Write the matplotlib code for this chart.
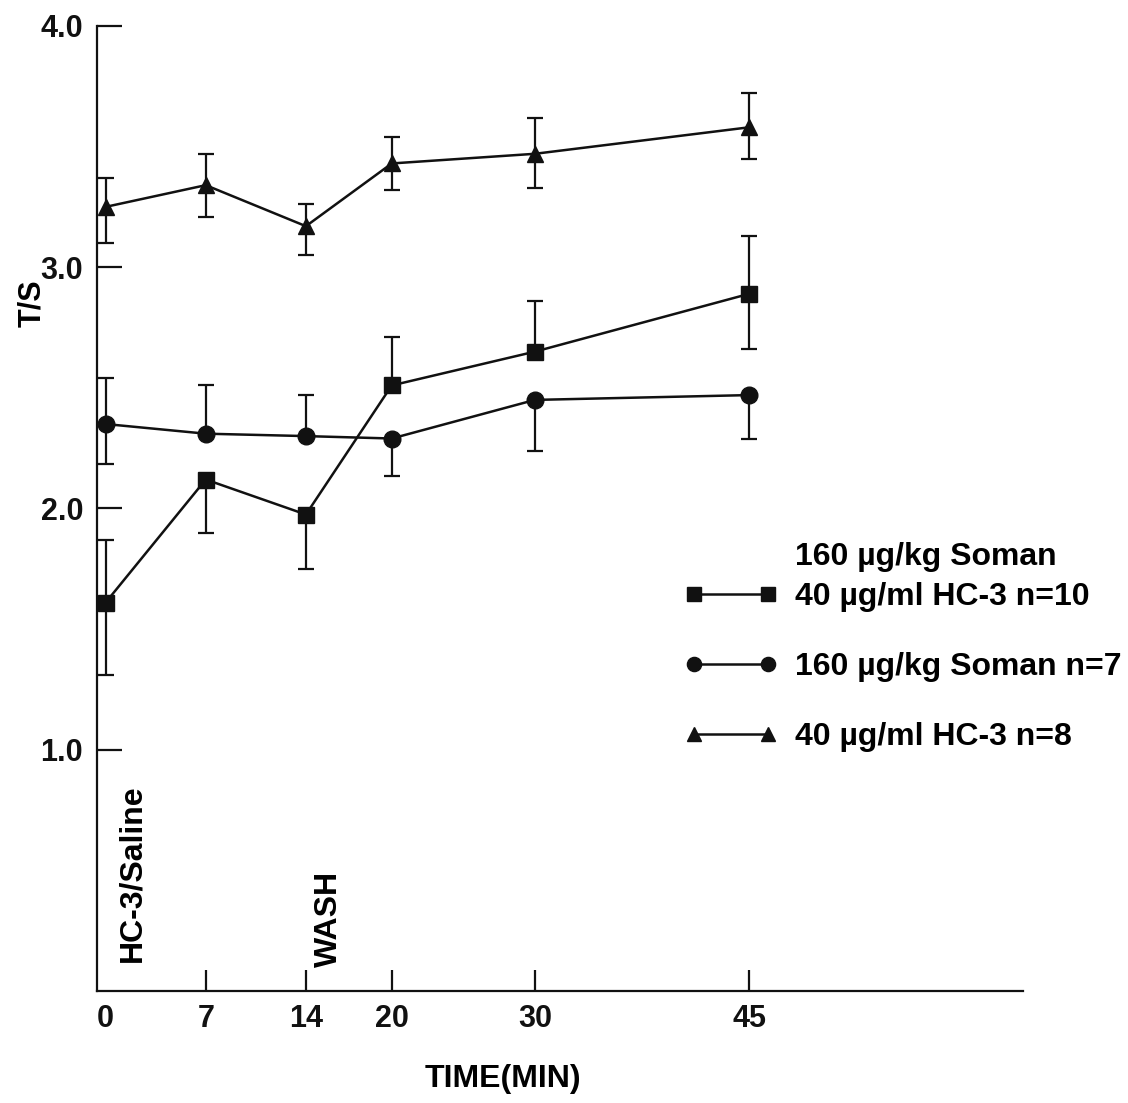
import numpy as np
import matplotlib
matplotlib.use("Agg")
import matplotlib.pyplot as plt

plt.rcParams["font.family"] = ["Liberation Sans", "DejaVu Sans"]
plt.rcParams["font.weight"] = "bold"

# 시간 (min)
TIMES = [0, 7, 14, 20, 30, 45]
X_TICKS = [0, 7, 14, 20, 30, 45]
Y_TICKS = [1.0, 2.0, 3.0, 4.0]
Y_TICK_LABELS = ["1.0", "2.0", "3.0", "4.0"]

# Soman + HC-3 (square)
SQ_MEAN = [1.61, 2.12, 1.975, 2.51, 2.65, 2.89]
SQ_UPPER = [1.87, None, None, 2.71, 2.86, 3.13]
SQ_LOWER = [1.31, 1.90, 1.75, None, None, 2.66]

# Soman only (circle)
CI_MEAN = [2.35, 2.31, 2.30, 2.29, 2.45, 2.47]
CI_UPPER = [2.54, 2.51, 2.47, None, None, None]
CI_LOWER = [2.185, None, None, 2.135, 2.24, 2.29]

# HC-3 only (triangle)
TR_MEAN = [3.25, 3.34, 3.17, 3.43, 3.47, 3.58]
TR_UPPER = [3.37, 3.47, 3.26, 3.54, 3.62, 3.72]
TR_LOWER = [3.10, 3.21, 3.05, 3.32, 3.33, 3.45]

LEGEND_HEADER = "160 µg/kg Soman"
LABELS = ["40 µg/ml HC-3 n=10", "160 µg/kg Soman n=7", "40 µg/ml HC-3 n=8"]
MARKERS = ["s", "o", "^"]


def _yerr(mean, upper, lower):
    """끝점 리스트 → errorbar용 (lower, upper) delta 배열. 없는 쪽은 0."""
    lo = [m - l if l is not None else 0.0 for m, l in zip(mean, lower)]
    up = [u - m if u is not None else 0.0 for m, u in zip(mean, upper)]
    return np.array([lo, up])


fig = plt.figure(figsize=(11.28, 11.03), dpi=100)
ax = fig.add_axes([0.086, 0.1015, 0.8207, 0.875])

series = [
    (SQ_MEAN, SQ_UPPER, SQ_LOWER),
    (CI_MEAN, CI_UPPER, CI_LOWER),
    (TR_MEAN, TR_UPPER, TR_LOWER),
]

handles = []
for (mean, upper, lower), mk, lab in zip(series, MARKERS, LABELS):
    ax.errorbar(TIMES, mean, yerr=_yerr(mean, upper, lower), fmt="none",
                ecolor="#111111", elinewidth=1.6, capsize=6, capthick=1.6,
                zorder=2)
    h, = ax.plot(TIMES, mean, color="#111111", lw=1.8, marker=mk,
                 markersize=12, markerfacecolor="#111111",
                 markeredgecolor="#111111", zorder=3, label=lab)
    handles.append(h)

ax.set_xlim(-0.6, 64.1)
ax.set_ylim(0, 4.0)
ax.set_xticks(X_TICKS)
ax.set_xticklabels([str(t) for t in X_TICKS])
ax.set_yticks(Y_TICKS)
ax.set_yticklabels(Y_TICK_LABELS)

for s in ("top", "right"):
    ax.spines[s].set_visible(False)
for s in ("left", "bottom"):
    ax.spines[s].set_linewidth(1.6)
    ax.spines[s].set_color("#111111")

ax.tick_params(axis="y", direction="in", length=18, width=1.6,
               labelsize=22, pad=10, colors="#111111")
ax.tick_params(axis="x", direction="in", length=15, width=1.6,
               labelsize=22, pad=9, colors="#111111")
# 0분 눈금선은 축에 붙어 있어 원본에 보이지 않음
ax.xaxis.get_major_ticks()[0].tick1line.set_visible(False)

ax.set_ylabel("T/S", fontsize=22, fontweight="bold")
ax.yaxis.set_label_coords(-0.054, 0.713)
ax.set_xlabel("TIME(MIN)", fontsize=23, fontweight="bold")
ax.xaxis.set_label_coords(0.438, -0.076)

# 처리 시점 주석
ax.text(1.9, 0.12, "HC-3/Saline", rotation=90, ha="center", va="bottom",
        fontsize=23, fontweight="bold")
ax.text(15.6, 0.10, "WASH", rotation=90, ha="center", va="bottom",
        fontsize=23, fontweight="bold")

leg = fig.legend(handles=handles, labels=LABELS, loc="upper left",
                 bbox_to_anchor=(0.607, 0.4725), frameon=False, numpoints=2,
                 handlelength=2.9, handletextpad=0.55, labelspacing=1.25,
                 borderpad=0, borderaxespad=0, fontsize=23, markerscale=0.85)
fig.text(0.705, 0.495, LEGEND_HEADER, ha="left", va="center",
         fontsize=23, fontweight="bold")

fig.savefig("out.png", dpi=100, facecolor="white")
